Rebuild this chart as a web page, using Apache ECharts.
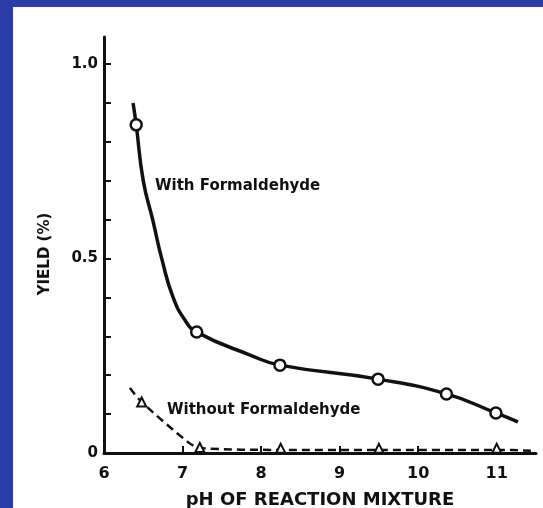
<!DOCTYPE html>
<html>
<head>
<meta charset="utf-8">
<script src="https://cdn.jsdelivr.net/npm/echarts@6/dist/echarts.min.js"></script>
<style>
html, body { margin: 0; padding: 0; background: #fff; }
#main { width: 543px; height: 508px; }
</style>
</head>
<body>
<div id="main"></div>
<script>
// 数据 (pH, yield %)
var withCurve = [[6.37, 0.90], [6.41, 0.844], [6.50, 0.70], [6.62, 0.60], [6.74, 0.496], [6.88, 0.40], [7.03, 0.342], [7.18, 0.311], [7.86, 0.252], [8.24, 0.226], [9.49, 0.19], [10.36, 0.152], [10.99, 0.103], [11.27, 0.08]];
var withPoints = [[6.41, 0.844], [7.18, 0.311], [8.24, 0.226], [9.49, 0.19], [10.36, 0.152], [10.99, 0.103]];
var withoutCurve = [[6.33, 0.167], [6.48, 0.131], [7.07, 0.028], [7.22, 0.013], [8.25, 0.008], [9.5, 0.008], [11, 0.008], [11.45, 0.006]];
var withoutPoints = [[6.48, 0.131], [7.22, 0.014], [8.25, 0.012], [9.5, 0.012], [11, 0.012]];
var xTicks = [7, 8, 9, 10, 11];
var xLabels = [6, 7, 8, 9, 10, 11];
var yTicks = [0, 0.1, 0.2, 0.3, 0.4, 0.5, 0.6, 0.7, 0.8, 0.9, 1.0];
var yLabels = [0, 0.5, 1.0];

var font = 'DejaVu Sans';
var blue = '#2b3ea7';

var option = {
    backgroundColor: '#fff',
    animation: false,
    grid: { left: 104, right: 7, top: 37, bottom: 55, outerBoundsMode: 'none' },
    xAxis: {
        type: 'value',
        min: 6,
        max: 11.5,
        name: 'pH OF REACTION MIXTURE',
        nameLocation: 'middle',
        nameGap: 38,
        nameTextStyle: { color: '#111', fontFamily: font, fontWeight: 'bold', fontSize: 18 },
        splitLine: { show: false },
        axisLine: { lineStyle: { color: '#111', width: 3 } },
        axisTick: { inside: true, length: 7, lineStyle: { color: '#111', width: 2 }, customValues: xTicks },
        axisLabel: { customValues: xLabels, color: '#111', fontFamily: font, fontWeight: 'bold', fontSize: 16, margin: 13 }
    },
    yAxis: {
        type: 'value',
        min: 0,
        max: 1.07,
        name: 'YIELD (%)',
        nameLocation: 'middle',
        nameRotate: 90,
        nameGap: 51,
        nameTextStyle: { color: '#111', fontFamily: font, fontWeight: 'bold', fontSize: 15, padding: [0, 18, 0, 0] },
        splitLine: { show: false },
        axisLine: { lineStyle: { color: '#111', width: 3 } },
        axisTick: { inside: true, length: 7, lineStyle: { color: '#111', width: 2 }, customValues: yTicks },
        axisLabel: {
            customValues: yLabels,
            color: '#111', fontFamily: font, fontWeight: 'bold', fontSize: 15, margin: 6,
            formatter: function (v) { return v === 1 ? '1.0' : String(v); }
        }
    },
    graphic: [
        { type: 'rect', left: 0, top: 0, z: 100, shape: { width: 13, height: 508 }, style: { fill: blue } },
        { type: 'rect', left: 0, top: 0, z: 100, shape: { width: 543, height: 7 }, style: { fill: blue } },
        { type: 'text', left: 155, top: 179, style: { text: 'With Formaldehyde', fill: '#111', font: 'bold 15px "DejaVu Sans"' } },
        { type: 'text', left: 167, top: 403, style: { text: 'Without Formaldehyde', fill: '#111', font: 'bold 15px "DejaVu Sans"' } }
    ],
    series: [
        {
            name: 'With Formaldehyde',
            type: 'line',
            data: withCurve,
            smooth: 0.5,
            showSymbol: false,
            lineStyle: { color: '#111', width: 3.5 }
        },
        {
            type: 'scatter',
            data: withPoints,
            symbol: 'circle',
            symbolSize: 11,
            itemStyle: { color: '#fff', borderColor: '#111', borderWidth: 2.5, opacity: 1 },
            z: 5
        },
        {
            name: 'Without Formaldehyde',
            type: 'line',
            data: withoutCurve,
            smooth: 0.3,
            showSymbol: false,
            lineStyle: { color: '#111', width: 2.5, type: [8, 5] }
        },
        {
            type: 'scatter',
            data: withoutPoints,
            symbol: 'triangle',
            symbolSize: 9,
            itemStyle: { color: '#fff', borderColor: '#111', borderWidth: 2, opacity: 1 },
            z: 5
        }
    ]
};

var myChart = echarts.init(document.getElementById('main'));
myChart.setOption(option, true);   //加载数据
</script>
</body>
</html>
